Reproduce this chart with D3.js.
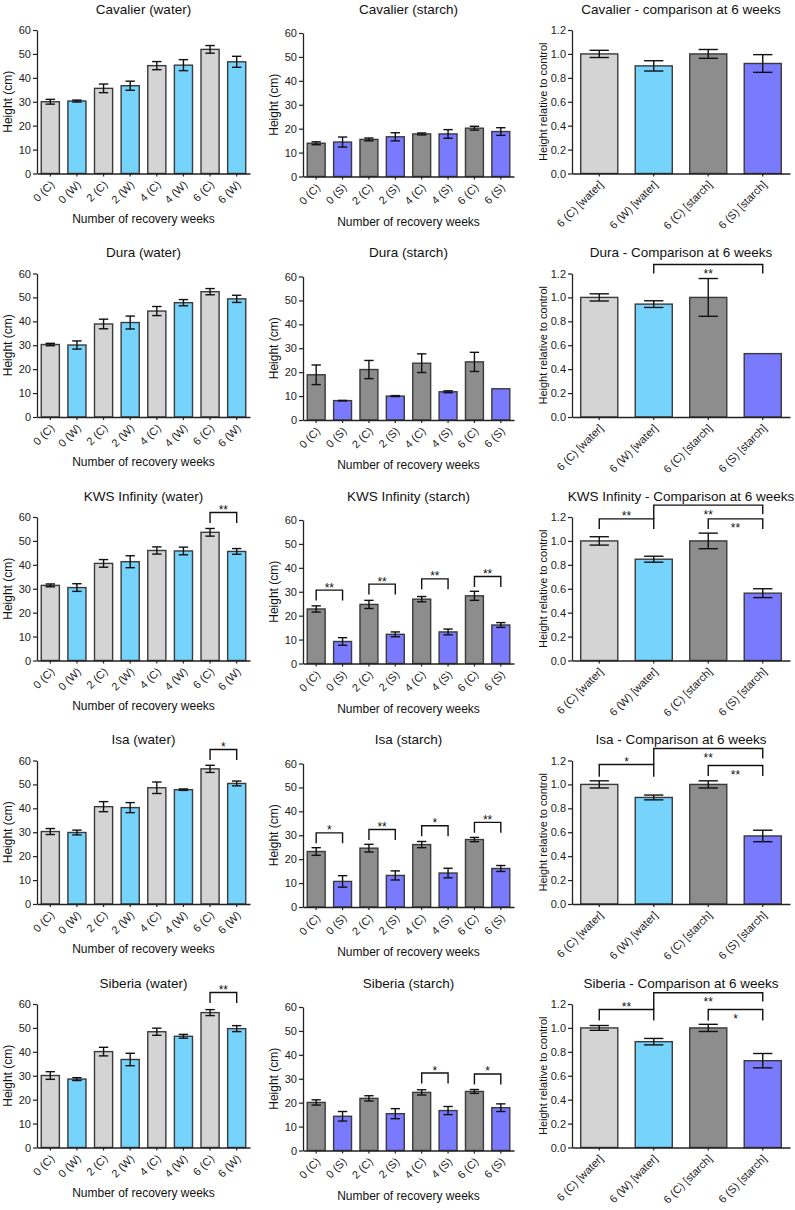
<!DOCTYPE html>
<html>
<head>
<meta charset="utf-8">
<script src="https://cdn.jsdelivr.net/npm/d3@7"></script>
<style>
  body { margin: 0; background: #fff; }
  svg { display: block; font-family: "Liberation Sans", Arial, sans-serif; }
</style>
</head>
<body>
<script>
// plant height after recovery, one row per cultivar
const cultivars = ['Cavalier', 'Dura', 'KWS Infinity', 'Isa', 'Siberia'];
const compTitles = [
  'Cavalier - comparison at 6 weeks',
  'Dura - Comparison at 6 weeks',
  'KWS Infinity - Comparison at 6 weeks',
  'Isa - Comparison at 6 weeks',
  'Siberia - Comparison at 6 weeks'
];
const waterLabels = ['0 (C)', '0 (W)', '2 (C)', '2 (W)', '4 (C)', '4 (W)', '6 (C)', '6 (W)'];
const starchLabels = ['0 (C)', '0 (S)', '2 (C)', '2 (S)', '4 (C)', '4 (S)', '6 (C)', '6 (S)'];
const compLabels = ['6 (C) [water]', '6 (W) [water]', '6 (C) [starch]', '6 (S) [starch]'];
const heightTicks = [0, 10, 20, 30, 40, 50, 60];
const relTicks = [0, 0.2, 0.4, 0.6, 0.8, 1.0, 1.2];

const waterMean = [
  [30.0, 30.3, 35.6, 36.7, 45.1, 45.3, 51.9, 46.7],
  [30.3, 30.1, 38.9, 39.5, 44.3, 47.8, 52.4, 49.4],
  [31.4, 30.5, 40.6, 41.3, 46.0, 45.8, 53.6, 45.6],
  [30.3, 29.9, 40.7, 40.3, 48.6, 47.8, 56.5, 50.4],
  [30.1, 28.6, 40.1, 36.8, 48.4, 46.5, 56.4, 49.7]
];
const waterErr = [
  [1.0, 0.4, 1.8, 1.9, 1.7, 2.3, 1.6, 2.3],
  [0.5, 1.7, 2.0, 2.7, 1.9, 1.3, 1.3, 1.5],
  [0.6, 1.6, 1.6, 2.5, 1.5, 1.6, 1.6, 1.2],
  [1.25, 1.0, 2.1, 2.1, 2.4, 0.3, 1.5, 1.0],
  [1.6, 0.6, 1.8, 2.6, 1.5, 0.8, 1.25, 1.25]
];
const starchMean = [
  [13.9, 14.4, 15.5, 16.6, 17.8, 17.8, 20.2, 18.8],
  [18.9, 8.1, 21.1, 10.0, 23.75, 11.8, 24.3, 13.05],
  [22.8, 9.2, 24.7, 12.2, 26.9, 13.2, 28.3, 16.1],
  [23.2, 10.7, 24.6, 13.2, 26.1, 14.2, 28.2, 16.1],
  [20.1, 14.3, 21.8, 15.4, 24.3, 16.7, 24.7, 17.9]
];
const starchErr = [
  [0.6, 2.1, 0.6, 1.7, 0.4, 1.8, 0.8, 1.6],
  [4.1, 0.1, 3.8, 0.2, 3.9, 0.4, 4.0, 0],
  [1.3, 1.6, 1.7, 1.0, 1.1, 1.2, 1.9, 1.0],
  [1.6, 2.4, 1.6, 1.9, 1.3, 2.0, 0.9, 1.25],
  [1.1, 2.0, 1.1, 2.1, 1.1, 1.7, 0.8, 1.6]
];
const compMean = [
  [1.0, 0.90, 1.0, 0.92],
  [1.0, 0.944, 1.0, 0.53],
  [1.0, 0.847, 1.0, 0.563],
  [1.0, 0.891, 1.0, 0.569],
  [1.0, 0.885, 1.0, 0.726]
];
const compErr = [
  [0.03, 0.043, 0.037, 0.074],
  [0.03, 0.028, 0.158, 0],
  [0.035, 0.025, 0.065, 0.037],
  [0.03, 0.02, 0.03, 0.048],
  [0.02, 0.027, 0.03, 0.06]
];

// significance brackets: [row, from, to, bracket height, label]
const waterSig = [
  [2, 6, 7, 61.9, '**'],
  [3, 6, 7, 64.6, '*'],
  [4, 6, 7, 64.8, '**']
];
const starchSig = [
  [2, 0, 1, 30.7, '**'], [2, 2, 3, 33.2, '**'], [2, 4, 5, 35.4, '**'], [2, 6, 7, 36.4, '**'],
  [3, 0, 1, 31.0, '*'], [3, 2, 3, 32.4, '**'], [3, 4, 5, 34.0, '*'], [3, 6, 7, 35.4, '**'],
  [4, 4, 5, 32.4, '*'], [4, 6, 7, 32.0, '*']
];
// comparison: [row, from, to, bracket height, left leg end, right leg end, label]
const compSig = [
  [1, 1, 3, 1.275, 1.2, 1.2, '**'],
  [2, 0, 1, 1.184, 1.10, 1.10, '**'], [2, 1, 3, 1.299, 1.184, 1.225, '**'], [2, 2, 3, 1.184, 1.10, 1.10, '**'],
  [3, 0, 1, 1.166, 1.065, 1.065, '*'], [3, 1, 3, 1.30, 1.166, 1.217, '**'], [3, 2, 3, 1.158, 1.07, 1.07, '**'],
  [4, 0, 1, 1.154, 1.062, 1.062, '**'], [4, 1, 3, 1.294, 1.154, 1.221, '**'], [4, 2, 3, 1.154, 1.062, 1.062, '*']
];

const waterColors = ['#d4d4d4', '#76d4fc'];
const starchColors = ['#8d8d8d', '#7a7aff'];
const compColors = ['#d4d4d4', '#76d4fc', '#8d8d8d', '#7a7aff'];

const width = 795, height = 1210;
const rowStep = 243.5, plotH = 143.5, legPx = 10.5;

const svg = d3.select('body').append('svg')
  .attr('width', width)
  .attr('height', height);

function drawPanel(opts) {
  const g = svg.append('g');
  const x = d3.scaleBand()
    .domain(opts.labels)
    .range([opts.x0, opts.x1])
    .paddingInner(0.32)
    .paddingOuter(0.16);
  const y = d3.scaleLinear()
    .domain(opts.domain)
    .range([opts.top + plotH, opts.top]);
  const bw = x.bandwidth();
  const cx = i => x(opts.labels[i]) + bw / 2;

  // bars
  g.selectAll('rect.bar')
    .data(opts.values)
    .enter().append('rect')
    .attr('class', 'bar')
    .attr('x', (d, i) => x(opts.labels[i]))
    .attr('y', d => y(d))
    .attr('width', bw)
    .attr('height', d => y(0) - y(d))
    .attr('fill', (d, i) => opts.colors[i % opts.colors.length])
    .attr('stroke', '#3a3a3a')
    .attr('stroke-width', 1.4);

  // error bars
  const err = g.selectAll('g.err')
    .data(opts.values.map((v, i) => ({v, e: opts.errors[i], i})).filter(d => d.e > 0))
    .enter().append('g')
    .attr('stroke', '#111')
    .attr('stroke-width', 1.4);
  const cap = bw * 0.26;
  err.append('line')
    .attr('x1', d => cx(d.i)).attr('x2', d => cx(d.i))
    .attr('y1', d => y(d.v - d.e)).attr('y2', d => y(d.v + d.e));
  err.append('line')
    .attr('x1', d => cx(d.i) - cap).attr('x2', d => cx(d.i) + cap)
    .attr('y1', d => y(d.v + d.e)).attr('y2', d => y(d.v + d.e));
  err.append('line')
    .attr('x1', d => cx(d.i) - cap).attr('x2', d => cx(d.i) + cap)
    .attr('y1', d => y(d.v - d.e)).attr('y2', d => y(d.v - d.e));

  // axes
  const yAxis = g.append('g')
    .attr('transform', `translate(${opts.x0},0)`)
    .call(d3.axisLeft(y).tickValues(opts.ticks).tickFormat(opts.fmt).tickSize(4).tickSizeOuter(0).tickPadding(2));
  const xAxis = g.append('g')
    .attr('transform', `translate(0,${y(0)})`)
    .call(d3.axisBottom(x).tickSize(3).tickSizeOuter(0));
  [yAxis, xAxis].forEach(a => {
    a.select('.domain').attr('stroke', '#222').attr('stroke-width', 1.3);
    a.selectAll('.tick line').attr('stroke', '#222').attr('stroke-width', 1.2);
    a.selectAll('text').attr('fill', '#222').style('font-size', '11px').style('font-family', '"Liberation Sans", Arial, sans-serif');
  });
  xAxis.selectAll('text')
    .attr('y', 0).attr('x', 0).attr('dy', '0.35em')
    .attr('text-anchor', 'end')
    .attr('transform', 'translate(2,9) rotate(-45)');

  // titles
  g.append('text')
    .attr('x', (opts.x0 + opts.x1) / 2)
    .attr('y', opts.titleY)
    .attr('dy', '0.35em')
    .attr('text-anchor', 'middle')
    .attr('fill', '#111')
    .style('font-size', '13.5px')
    .text(opts.title);
  g.append('text')
    .attr('transform', `translate(${opts.x0 - 29},${opts.top + plotH / 2}) rotate(-90)`)
    .attr('dy', '0.35em')
    .attr('text-anchor', 'middle')
    .attr('fill', '#111')
    .style('font-size', opts.ylabelSize)
    .text(opts.ylabel);
  if (opts.xlabel) {
    g.append('text')
      .attr('x', (opts.x0 + opts.x1) / 2)
      .attr('y', y(0) + 45)
      .attr('dy', '0.35em')
      .attr('text-anchor', 'middle')
      .attr('fill', '#111')
      .style('font-size', '12px')
      .text(opts.xlabel);
  }

  // significance brackets
  const sig = g.selectAll('g.sig')
    .data(opts.sig)
    .enter().append('g')
    .attr('class', 'sig');
  sig.append('path')
    .attr('fill', 'none')
    .attr('stroke', '#111')
    .attr('stroke-width', 1.4)
    .attr('d', s => {
      const yl = s.left != null ? y(s.left) : y(s.top) + legPx;
      const yr = s.right != null ? y(s.right) : y(s.top) + legPx;
      return `M${cx(s.a)},${yl}V${y(s.top)}H${cx(s.b)}V${yr}`;
    });
  sig.append('text')
    .attr('x', s => (cx(s.a) + cx(s.b)) / 2)
    .attr('y', s => y(s.top) + (s.below ? 13.5 : 1.5))
    .attr('text-anchor', 'middle')
    .attr('fill', '#111')
    .style('font-size', '12px')
    .text(s => s.label);
}

cultivars.forEach((name, r) => {
  const base = 30 + r * rowStep;
  drawPanel({
    x0: 37, x1: 250, top: base, titleY: base - 21,
    labels: waterLabels, values: waterMean[r], errors: waterErr[r],
    colors: waterColors, domain: [0, 60], ticks: heightTicks, fmt: d3.format('d'),
    title: `${name} (water)`, ylabel: 'Height (cm)', ylabelSize: '12px',
    xlabel: 'Number of recovery weeks',
    sig: waterSig.filter(s => s[0] === r).map(s => ({a: s[1], b: s[2], top: s[3], label: s[4]}))
  });
  drawPanel({
    x0: 303, x1: 514, top: base + 3, titleY: base - 21,
    labels: starchLabels, values: starchMean[r], errors: starchErr[r],
    colors: starchColors, domain: [0, 60], ticks: heightTicks, fmt: d3.format('d'),
    title: `${name} (starch)`, ylabel: 'Height (cm)', ylabelSize: '12px',
    xlabel: 'Number of recovery weeks',
    sig: starchSig.filter(s => s[0] === r).map(s => ({a: s[1], b: s[2], top: s[3], label: s[4]}))
  });
  drawPanel({
    x0: 572, x1: 790, top: base, titleY: base - 21,
    labels: compLabels, values: compMean[r], errors: compErr[r],
    colors: compColors, domain: [0, 1.2], ticks: relTicks, fmt: d3.format('.1f'),
    title: compTitles[r], ylabel: 'Height relative to control', ylabelSize: '11px',
    xlabel: null,
    sig: compSig.filter(s => s[0] === r).map(s => ({
      a: s[1], b: s[2], top: s[3], left: s[4], right: s[5], label: s[6], below: s[1] > 0
    }))
  });
});
</script>
</body>
</html>
